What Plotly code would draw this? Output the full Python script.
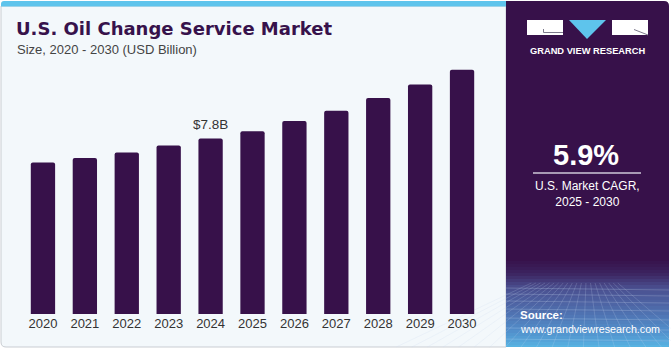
import plotly.graph_objects as go

years = ["2020", "2021", "2022", "2023", "2024", "2025", "2026", "2027", "2028", "2029", "2030"]
values = [6.73, 6.93, 7.18, 7.49, 7.80, 8.12, 8.58, 9.03, 9.60, 10.20, 10.86]
label_year = "2024"
label_text = "$7.8B"
title_text = "U.S. Oil Change Service Market"
subtitle_text = "Size, 2020 - 2030 (USD Billion)"
cagr_text = "5.9%"
cagr_caption = "U.S. Market CAGR,<br>2025 - 2030"

W, H = 671, 350
PURPLE = "#37114a"


def px(x):
    return x / W


def py(y):
    return 1 - y / H


fig = go.Figure()
fig.add_trace(go.Bar(
    x=years, y=values,
    marker=dict(color=PURPLE, cornerradius=2, line=dict(width=0)),
    hoverinfo="skip",
))

shapes = []
# card background & border
shapes.append(dict(type="path", xref="paper", yref="paper",
                   path=f"M {px(1)},{py(6)} L {px(506)},{py(6)} L {px(506)},{py(347)} L {px(6)},{py(347)} Q {px(1)},{py(347)} {px(1)},{py(342)} Z",
                   fillcolor="#f3f8fb", line=dict(color="#c9cdd2", width=1), layer="below"))
# top blue strip
shapes.append(dict(type="path", xref="paper", yref="paper",
                   path=f"M {px(1)},{py(6.5)} L {px(1)},{py(4)} Q {px(1)},{py(1)} {px(4)},{py(1)} L {px(507)},{py(1)} L {px(507)},{py(6.5)} Z",
                   fillcolor="#5ec4ec", line=dict(width=0), layer="below"))
# right panel
shapes.append(dict(type="path", xref="paper", yref="paper",
                   path=f"M {px(506)},{py(1)} L {px(664)},{py(1)} Q {px(669)},{py(1)} {px(669)},{py(6)} L {px(669)},{py(347)} L {px(506)},{py(347)} Z",
                   fillcolor=PURPLE, line=dict(width=0), layer="below"))


def lerp(c1, c2, t):
    a = [int(c1[i:i + 2], 16) for i in (1, 3, 5)]
    b = [int(c2[i:i + 2], 16) for i in (1, 3, 5)]
    return "rgb(%d,%d,%d)" % tuple(round(a[k] + (b[k] - a[k]) * t) for k in range(3))


stops = [(258, "#37114a"), (272, "#3c2460"), (286, "#4a4e8e"), (310, "#4f6fae"), (330, "#5290cc"), (347, "#58b6e4")]
y = 258
while y < 347:
    for (y0, c0), (y1, c1) in zip(stops[:-1], stops[1:]):
        if y0 <= y < y1:
            col = lerp(c0, c1, (y - y0) / (y1 - y0))
            break
    shapes.append(dict(type="rect", xref="paper", yref="paper",
                       x0=px(506), x1=px(669), y0=py(y), y1=py(min(y + 3, 347)),
                       fillcolor=col, line=dict(width=0), layer="below"))
    y += 3
# grid texture
for gy in [288, 294, 301, 309, 318, 328, 339]:
    shapes.append(dict(type="line", xref="paper", yref="paper",
                       x0=px(506), x1=px(669), y0=py(gy), y1=py(gy + 2),
                       line=dict(color="rgba(200,215,240,0.25)", width=1), layer="below"))
for i in range(-6, 14):
    xt = 506 + i * 13
    shapes.append(dict(type="line", xref="paper", yref="paper",
                       x0=px(587 + (xt - 587) * 0.35), x1=px(587 + (xt - 587) * 1.2),
                       y0=py(283), y1=py(347),
                       line=dict(color="rgba(200,215,240,0.2)", width=1), layer="below"))

# logo
shapes.append(dict(type="rect", xref="paper", yref="paper", x0=px(527), x1=px(563), y0=py(20), y1=py(35),
                   fillcolor="white", line=dict(width=0)))
shapes.append(dict(type="path", xref="paper", yref="paper",
                   path=f"M {px(569)},{py(20)} L {px(606)},{py(20)} L {px(587)},{py(39)} Z",
                   fillcolor="#5ec4ec", line=dict(width=0)))
shapes.append(dict(type="rect", xref="paper", yref="paper", x0=px(612), x1=px(648), y0=py(20), y1=py(35),
                   fillcolor="white", line=dict(width=0)))
shapes.append(dict(type="path", xref="paper", yref="paper",
                   path=f"M {px(543.5)},{py(29)} L {px(543.5)},{py(32.5)} L {px(563)},{py(32.5)}",
                   line=dict(color="#7d7a8c", width=1)))
shapes.append(dict(type="path", xref="paper", yref="paper",
                   path=f"M {px(634)},{py(29.5)} L {px(648)},{py(35)}",
                   line=dict(color="#7d7a8c", width=1)))
# cagr divider
shapes.append(dict(type="line", xref="paper", yref="paper", x0=px(533), x1=px(641), y0=py(173), y1=py(173),
                   line=dict(color="#cfc7d8", width=1.5)))

ann = []


def text(x, y, s, size, color, bold=False, xanchor="left", family="Liberation Sans, Arial, sans-serif"):
    ann.append(dict(x=px(x), y=py(y), xref="paper", yref="paper", text=f"<b>{s}</b>" if bold else s,
                    showarrow=False, xanchor=xanchor, yanchor="middle",
                    font=dict(size=size, color=color, family=family)))


text(14, 29, title_text, 18, "#37124b", bold=True, family="DejaVu Sans, sans-serif")
text(15, 49, subtitle_text, 13, "#444444")
text(587.5, 51, "GRAND VIEW RESEARCH", 9.3, "white", bold=True, xanchor="center")
text(586, 155, cagr_text, 29, "white", bold=True, xanchor="center")
ann.append(dict(x=px(587), y=py(194), xref="paper", yref="paper", text=cagr_caption, showarrow=False,
                xanchor="center", yanchor="middle", align="center",
                font=dict(size=12, color="white", family="Liberation Sans, Arial, sans-serif")))
text(518, 315, "Source:", 11.5, "white", bold=True)
text(518, 329, "www.grandviewresearch.com", 10.7, "white")

# data label via axis coordinates (category index)
li = years.index(label_year)
ann.append(dict(x=li, y=values[li], xref="x", yref="y", text=label_text,
                showarrow=False, yanchor="bottom", yshift=5,
                font=dict(size=13.5, color="#333333", family="Liberation Sans, Arial, sans-serif")))

fig.update_layout(
    width=W, height=H,
    margin=dict(l=0, r=0, t=0, b=0),
    paper_bgcolor="white",
    plot_bgcolor="rgba(0,0,0,0)",
    showlegend=False,
    bargap=0.42,
    shapes=shapes,
    annotations=ann,
    xaxis=dict(domain=[px(22), px(483)], type="category", range=[-0.5, 10.5],
               showgrid=False, zeroline=False, showline=False, ticks="",
               tickfont=dict(size=13, color="#333333", family="Liberation Sans, Arial, sans-serif"),
               ticklabelstandoff=0),
    yaxis=dict(domain=[1 - 314 / H, 1 - 44 / H], range=[0, 12], visible=False),
)

fig.write_html("out.html")
